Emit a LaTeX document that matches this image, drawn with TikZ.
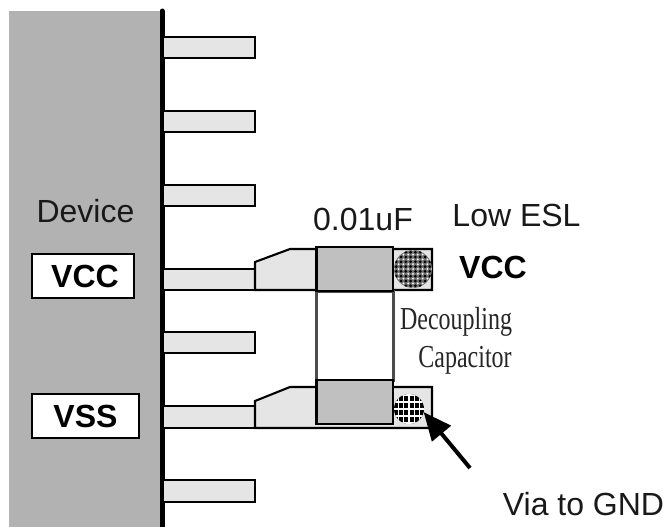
\documentclass[tikz,border=0pt]{standalone}
\usepackage{fontspec}
\setmainfont{Liberation Sans}
\newfontfamily\serifface{Liberation Serif}
\usetikzlibrary{arrows.meta}
\definecolor{devgray}{HTML}{B2B2B2}
\definecolor{pingray}{HTML}{E5E5E5}
\definecolor{capgray}{HTML}{C0C0C0}
\tikzset{
  pinbox/.style={draw=black,fill=pingray,line width=2.1pt,line join=miter},
  capbox/.style={draw=black,fill=capgray,line width=2.4pt},
  bodybox/.style={draw=black!70,fill=white,line width=3pt},
  labelbox/.style={draw=black,fill=white,line width=2pt,inner sep=0pt,font=\fontsize{32}{32}\selectfont\bfseries},
  sanstext/.style={inner sep=0pt,anchor=base,text=black!90,font=\fontsize{32}{32}\selectfont},
  boldtext/.style={inner sep=0pt,anchor=base,font=\fontsize{32}{32}\selectfont\bfseries},
  seriftext/.style={inner sep=0pt,anchor=base,text=black!85,font=\serifface\fontsize{32}{32}\selectfont},
  viahole/.style={circle,inner sep=0pt,outer sep=0pt,fill=black},
}
\begin{document}
\begin{tikzpicture}[x=1pt,y=-1pt]
\useasboundingbox (0,0) rectangle (669,527);
% device
\fill[devgray] (9,11) rectangle (160,527);
\draw[line width=5pt,line cap=round] (162,11) -- (162,525);
\draw[line width=5pt] (162,520) -- (162,527);
% pins
\foreach \y/\h in {37/21,111/21,185/21,269/21,332/21,406/22,480/22}
  \draw[pinbox] (163,\y) rectangle (255,\y+\h);
% pads
\draw[pinbox] (255,262) -- (290,249) -- (432,249) -- (432,290) -- (255,290) -- cycle;
\draw[pinbox] (255,401) -- (290,387) -- (432,387) -- (432,428) -- (255,428) -- cycle;
% capacitor
\draw[bodybox] (316.5,291) rectangle (393,380);
\draw[capbox] (316.5,247) rectangle (393,291);
\draw[capbox] (316.5,380) rectangle (393,424);
% vias
\node[viahole,minimum size=38pt,fill=black!55,path picture={
  \foreach \i in {-4,...,4}\foreach \j in {-4,...,4}{
    \fill[white] (\i*4.8,\j*4.8) circle (1pt);
    \fill[black] (\i*4.8+2.4,\j*4.8+2.4) circle (1.5pt);
  }}] (viaA) at (413,269) {};
\node[viahole,minimum size=30pt,path picture={
  \foreach \i in {-3,...,3}
    \draw[white,line width=1.1pt] (\i*5.4,-16) -- (\i*5.4,16);
  \foreach \j in {-2,...,2}
    \draw[white,line width=1.1pt] (-16,\j*7) -- (16,\j*7);
  }] (viaB) at (409,409) {};
% labels
\node[labelbox,minimum width=102pt,minimum height=44pt] (vccbox) at (83,276) {\hspace{4pt}\raisebox{-1pt}{VCC}};
\node[labelbox,minimum width=107pt,minimum height=44pt] (vssbox) at (85.5,416) {\raisebox{-1pt}{VSS}};
\node[sanstext] (device) at (85.5,222) {Device};
\node[sanstext] (cval) at (363,230) {0.01uF};
\node[sanstext] (esl) at (516.5,226.5) {Low ESL};
\node[boldtext] (vccr) at (493,278) {VCC};
\node[seriftext] (dec) at (456,329) {\scalebox{0.75}[1]{Decoupling}};
\node[seriftext] (capn) at (465,367) {\scalebox{0.75}[1]{Capacitor}};
\node[sanstext] (gnd) at (583.5,515) {Via to GND};
% arrow
\coordinate (tail) at (470,468);
\draw[line width=4pt,-{Triangle[length=28pt,width=24pt]}] (tail) -- (viaB.-12);
\end{tikzpicture}
\end{document}
